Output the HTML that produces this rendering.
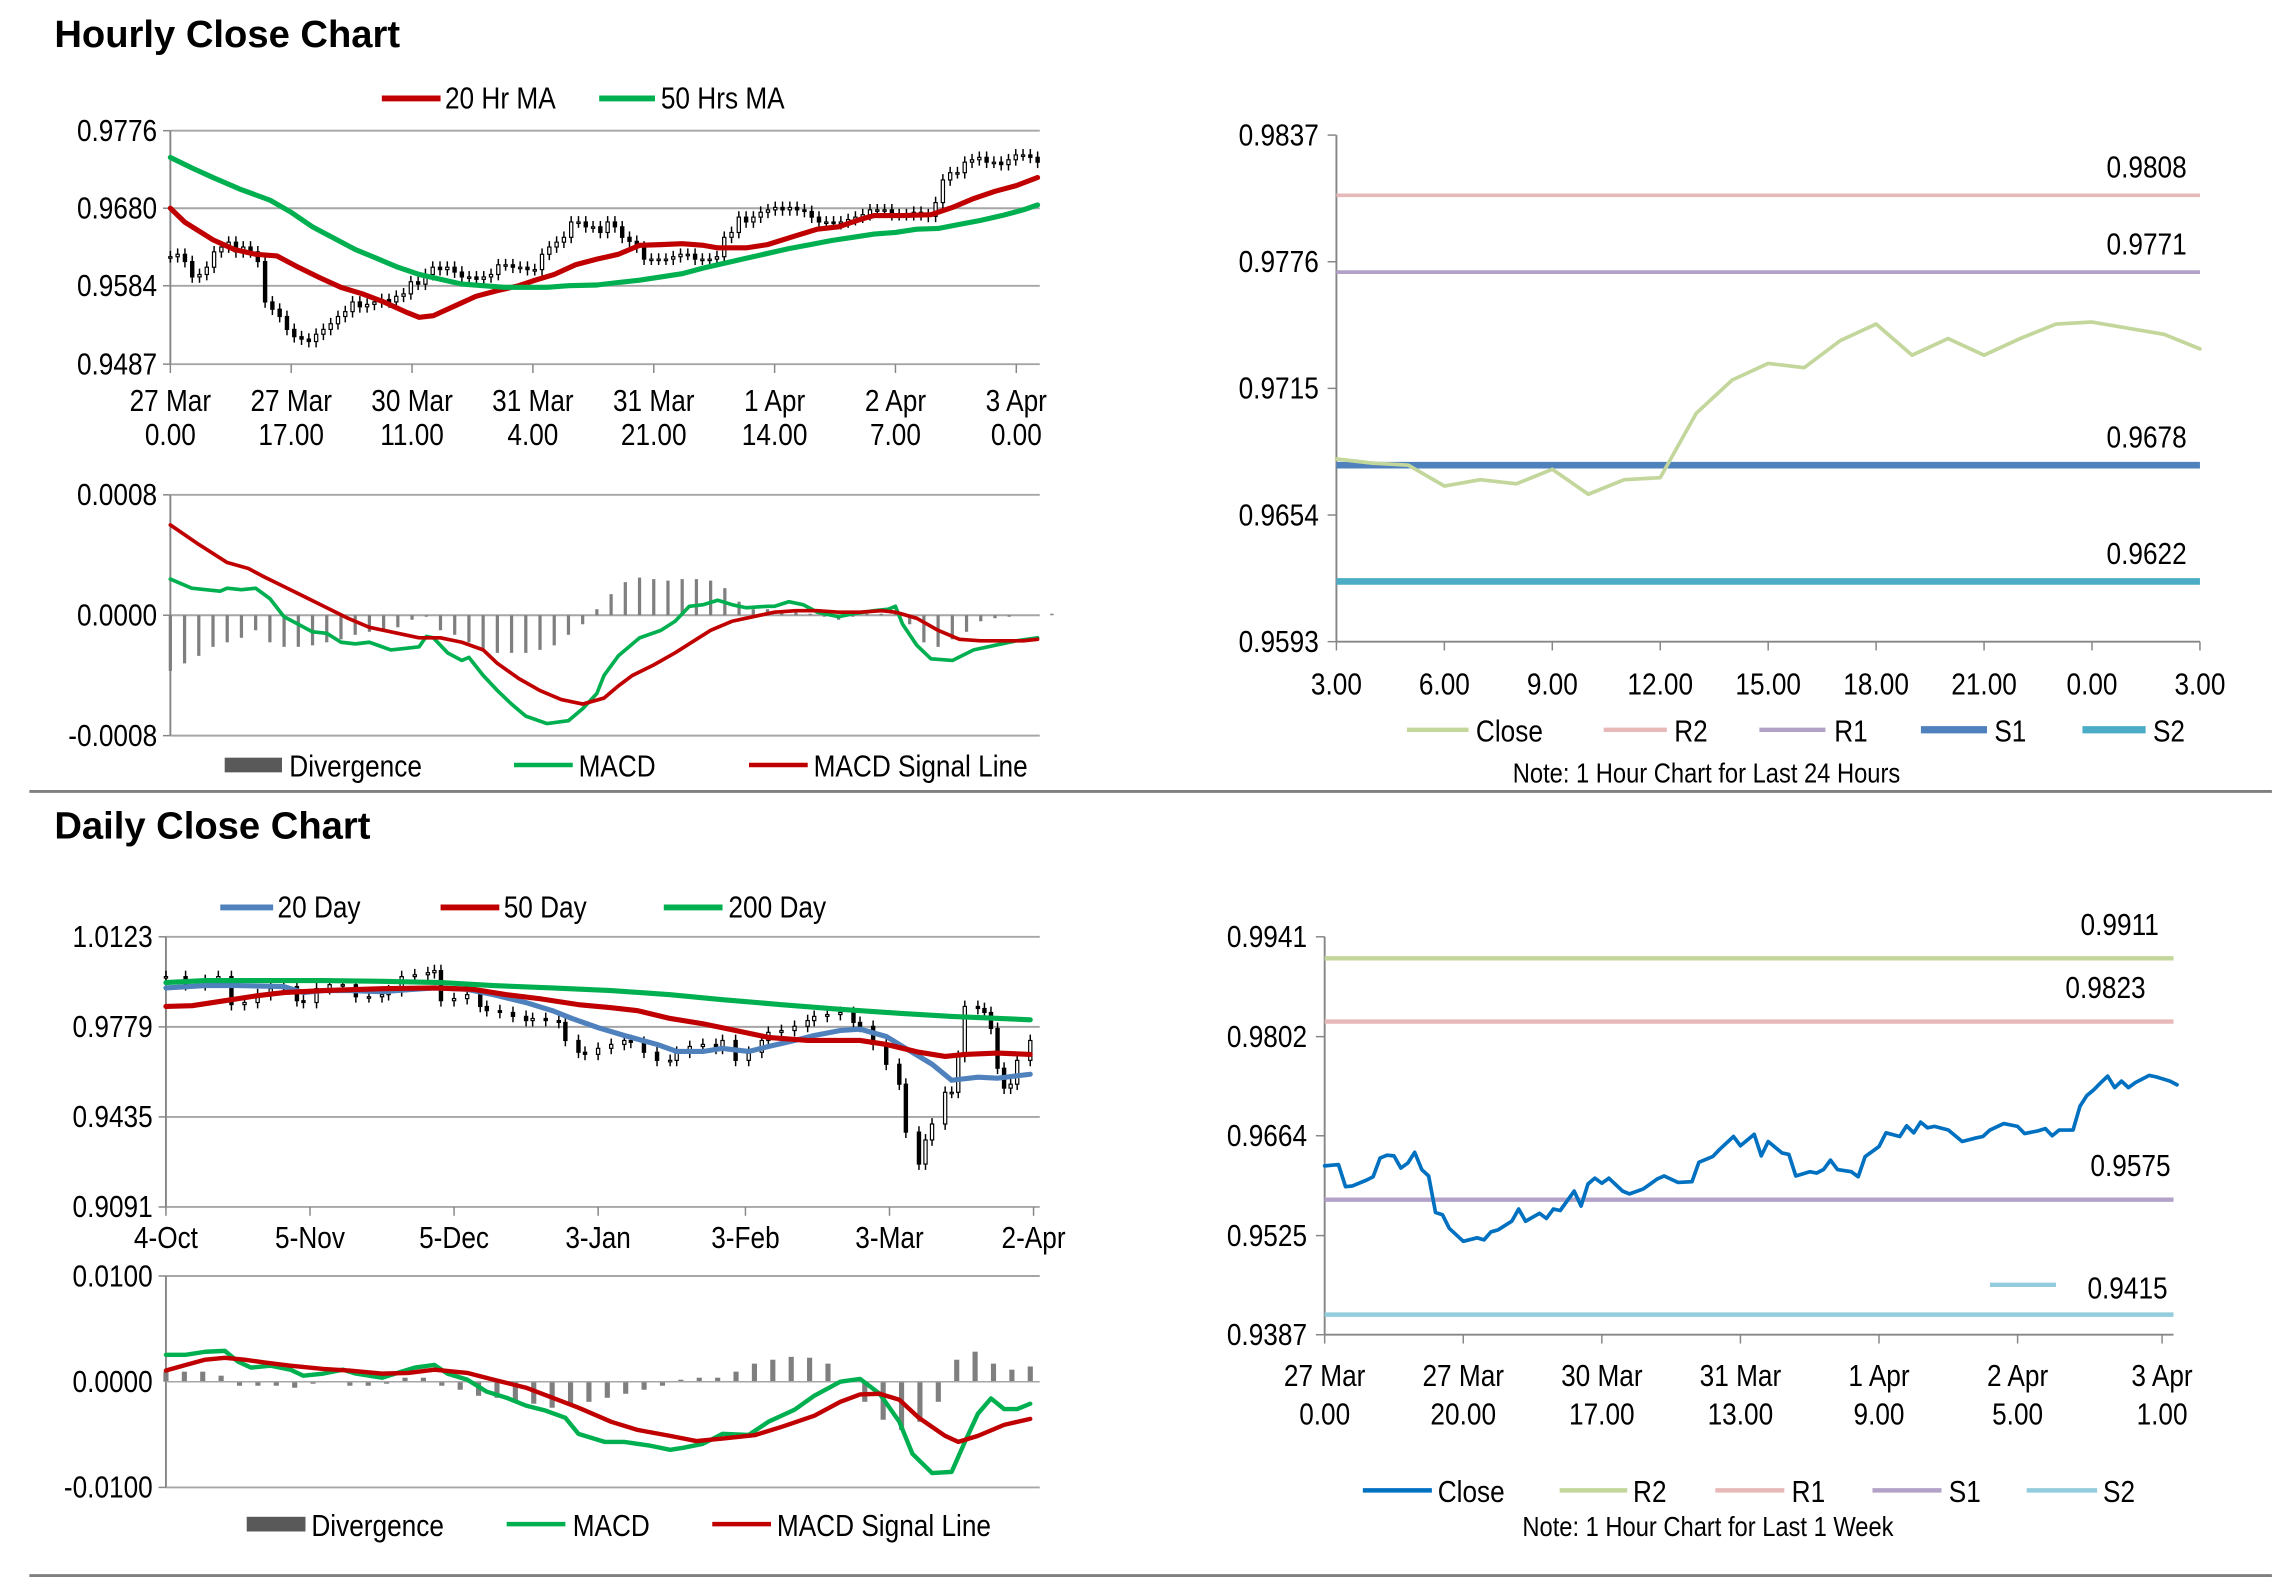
<!DOCTYPE html>
<html><head><meta charset="utf-8"><title>Hourly and Daily Close Charts</title>
<style>
html,body{margin:0;padding:0;background:#fff;}
svg{display:block;}
text{font-family:"Liberation Sans Narrow","Liberation Sans",sans-serif;fill:#000;}
.t{font-size:21px;}
.ti{font-family:"Liberation Sans",sans-serif;font-weight:bold;font-size:26px;}
</style></head>
<body>
<svg id="root" xmlns="http://www.w3.org/2000/svg" width="2291" height="1577" viewBox="0 0 1560 1074" preserveAspectRatio="none">
<rect x="0" y="0" width="1560" height="1074" fill="#fff"/>
<text class="ti" x="37" y="32">Hourly Close Chart</text>
<text class="ti" x="37" y="571">Daily Close Chart</text>
<line x1="20" y1="539" x2="1547" y2="539" stroke="#808080" stroke-width="2"/>
<line x1="20" y1="1073" x2="1547" y2="1073" stroke="#808080" stroke-width="2"/>

<g>
<line x1="260" y1="67" x2="300" y2="67" stroke="#c00000" stroke-width="4"/><text class="t" x="303" y="74">20 Hr MA</text>
<line x1="408" y1="67" x2="446" y2="67" stroke="#00b050" stroke-width="4"/><text class="t" x="450" y="74">50 Hrs MA</text>
</g>
<g>
<rect x="153" y="516" width="39" height="10" fill="#595959"/><text class="t" x="197" y="529">Divergence</text>
<line x1="350" y1="521" x2="390" y2="521" stroke="#00b050" stroke-width="3"/><text class="t" x="394" y="529">MACD</text>
<line x1="510" y1="521" x2="550" y2="521" stroke="#c00000" stroke-width="3"/><text class="t" x="554" y="529">MACD Signal Line</text>
</g>
<g>
<line x1="958" y1="497" x2="1000" y2="497" stroke="#c3d69b" stroke-width="3"/><text class="t" x="1005" y="505">Close</text>
<line x1="1092" y1="497" x2="1135" y2="497" stroke="#e6b9b8" stroke-width="3"/><text class="t" x="1140" y="505">R2</text>
<line x1="1198" y1="497" x2="1243" y2="497" stroke="#b3a2c7" stroke-width="3"/><text class="t" x="1249" y="505">R1</text>
<line x1="1308" y1="497" x2="1353" y2="497" stroke="#4f81bd" stroke-width="5"/><text class="t" x="1358" y="505">S1</text>
<line x1="1418" y1="497" x2="1461" y2="497" stroke="#4bacc6" stroke-width="5"/><text class="t" x="1466" y="505">S2</text>
<text class="t" x="1162" y="533" text-anchor="middle" style="font-size:19px">Note: 1 Hour Chart for Last 24 Hours</text>
</g>
<g>
<line x1="150" y1="618" x2="186" y2="618" stroke="#4f81bd" stroke-width="4"/><text class="t" x="189" y="625">20 Day</text>
<line x1="300" y1="618" x2="340" y2="618" stroke="#c00000" stroke-width="4"/><text class="t" x="343" y="625">50 Day</text>
<line x1="452" y1="618" x2="492" y2="618" stroke="#00b050" stroke-width="4"/><text class="t" x="496" y="625">200 Day</text>
</g>
<g>
<rect x="168" y="1033" width="40" height="10" fill="#595959"/><text class="t" x="212" y="1046">Divergence</text>
<line x1="345" y1="1038" x2="385" y2="1038" stroke="#00b050" stroke-width="3"/><text class="t" x="390" y="1046">MACD</text>
<line x1="485" y1="1038" x2="525" y2="1038" stroke="#c00000" stroke-width="3"/><text class="t" x="529" y="1046">MACD Signal Line</text>
</g>
<g>
<line x1="928" y1="1015" x2="975" y2="1015" stroke="#0070c0" stroke-width="3"/><text class="t" x="979" y="1023">Close</text>
<line x1="1062" y1="1015" x2="1108" y2="1015" stroke="#c3d69b" stroke-width="3"/><text class="t" x="1112" y="1023">R2</text>
<line x1="1168" y1="1015" x2="1215" y2="1015" stroke="#e6b9b8" stroke-width="3"/><text class="t" x="1220" y="1023">R1</text>
<line x1="1275" y1="1015" x2="1322" y2="1015" stroke="#b3a2c7" stroke-width="3"/><text class="t" x="1327" y="1023">S1</text>
<line x1="1380" y1="1015" x2="1428" y2="1015" stroke="#93cddd" stroke-width="3"/><text class="t" x="1432" y="1023">S2</text>
<text class="t" x="1163" y="1046" text-anchor="middle" style="font-size:19px">Note: 1 Hour Chart for Last 1 Week</text>
</g>
<g id="marks"></g>
</svg>
<script>
const hourlyClose=[0.9620,0.9623,0.9614,0.9595,0.9598,0.9607,0.9626,0.9632,0.9638,0.9626,0.9632,0.9626,0.9614,0.9564,0.9555,0.9546,0.9530,0.9521,0.9518,0.9515,0.9524,0.9530,0.9537,0.9546,0.9552,0.9564,0.9558,0.9561,0.9564,0.9567,0.9564,0.9571,0.9574,0.9589,0.9586,0.9598,0.9607,0.9604,0.9607,0.9601,0.9595,0.9595,0.9592,0.9595,0.9598,0.9610,0.9610,0.9607,0.9607,0.9604,0.9604,0.9623,0.9632,0.9638,0.9644,0.9663,0.9663,0.9657,0.9657,0.9650,0.9663,0.9657,0.9644,0.9639,0.9632,0.9617,0.9617,0.9617,0.9617,0.9620,0.9623,0.9623,0.9617,0.9617,0.9617,0.9620,0.9644,0.9650,0.9669,0.9663,0.9669,0.9675,0.9678,0.9681,0.9678,0.9681,0.9678,0.9676,0.9669,0.9663,0.9663,0.9661,0.9663,0.9666,0.9669,0.9672,0.9678,0.9678,0.9678,0.9672,0.9672,0.9672,0.9675,0.9672,0.9670,0.9687,0.9715,0.9724,0.9724,0.9737,0.9740,0.9743,0.9737,0.9737,0.9734,0.9740,0.9746,0.9746,0.9743,0.9737];
const ma20Hours=[0,2,6,9,12,15,18,21,24,27,30,33,35,37,40,43,46,49,51,54,57,60,63,66,69,72,75,77,81,84,88,91,94,97,99,103,107,110,113,116,119,122];
const ma20Values=[0.9680,0.9663,0.9641,0.9629,0.9623,0.9621,0.9607,0.9594,0.9582,0.9574,0.9564,0.9552,0.9545,0.9547,0.9559,0.9571,0.9578,0.9584,0.9590,0.9598,0.9610,0.9617,0.9623,0.9634,0.9635,0.9636,0.9634,0.9631,0.9631,0.9635,0.9646,0.9654,0.9657,0.9666,0.9671,0.9671,0.9672,0.9681,0.9692,0.9701,0.9708,0.9718];
const ma50Hours=[0,3,6,10,14,17,20,23,26,29,32,35,38,41,44,47,50,53,56,60,63,66,69,72,75,78,81,84,87,90,93,96,99,102,105,108,111,114,117,120,122];
const ma50Values=[0.9743,0.9730,0.9718,0.9703,0.9690,0.9675,0.9657,0.9643,0.9629,0.9618,0.9607,0.9598,0.9592,0.9586,0.9584,0.9582,0.9582,0.9582,0.9584,0.9585,0.9588,0.9591,0.9595,0.9599,0.9606,0.9612,0.9618,0.9624,0.9630,0.9635,0.9640,0.9644,0.9648,0.9650,0.9654,0.9655,0.9660,0.9665,0.9671,0.9678,0.9684];
const hourlyYTicks=[0.9487,0.9584,0.9680,0.9776];
const hourlyXLabels=[["27 Mar","0.00"],["27 Mar","17.00"],["30 Mar","11.00"],["31 Mar","4.00"],["31 Mar","21.00"],["1 Apr","14.00"],["2 Apr","7.00"],["3 Apr","0.00"]];
const hMacdHours=[0,3,5,7,8,10,12,14,16,18,20,22,24,26,28,31,33,35,36,37,39,41,42,44,46,48,50,53,56,58,60,61,63,66,69,71,73,75,77,79,81,84,85,87,89,91,94,96,99,101,102,103,105,107,110,113,116,119,122];
const hMacdValues=[0.00024,0.00018,0.00017,0.00016,0.00018,0.00017,0.00018,0.00011,-0.00001,-0.00006,-0.00011,-0.00012,-0.00018,-0.00019,-0.00018,-0.00023,-0.00022,-0.00021,-0.00014,-0.00015,-0.00025,-0.00030,-0.00028,-0.00040,-0.00050,-0.00059,-0.00067,-0.00072,-0.00070,-0.00062,-0.00052,-0.00040,-0.00027,-0.00015,-0.00010,-0.00004,0.00006,0.00007,0.00010,0.00007,0.00005,0.00006,0.00006,0.00009,0.00007,0.00002,-0.00001,0.00001,0.00003,0.00004,0.00006,-0.00006,-0.00020,-0.00029,-0.00030,-0.00023,-0.00020,-0.00017,-0.00015];
const hSignalHours=[0,4,8,11,13,16,19,22,25,28,32,35,38,41,44,46,49,52,55,58,61,63,65,68,71,74,76,79,82,85,88,91,94,97,100,102,105,108,111,114,117,120,122];
const hSignalValues=[0.00060,0.00047,0.00035,0.00031,0.00026,0.00019,0.00012,0.00005,-0.00002,-0.00008,-0.00012,-0.00015,-0.00015,-0.00018,-0.00023,-0.00032,-0.00042,-0.00050,-0.00056,-0.00059,-0.00055,-0.00047,-0.00040,-0.00033,-0.00025,-0.00016,-0.00010,-0.00004,-0.00001,0.00002,0.00003,0.00003,0.00002,0.00002,0.00003,0.00002,-0.00002,-0.00010,-0.00016,-0.00017,-0.00017,-0.00017,-0.00016];
const hDivergence=[-0.00037,-0.00032,-0.00027,-0.00021,-0.00018,-0.00015,-0.00010,-0.00018,-0.00021,-0.00021,-0.00020,-0.00018,-0.00016,-0.00013,-0.00011,-0.00010,-0.00008,-0.00003,-0.00001,-0.00010,-0.00013,-0.00018,-0.00022,-0.00025,-0.00025,-0.00025,-0.00023,-0.00020,-0.00013,-0.00006,0.00004,0.00014,0.00022,0.00025,0.00024,0.00023,0.00024,0.00024,0.00023,0.00018,0.00009,0.00004,0.00004,0.00002,0.00002,0.00001,-0.00001,-0.00003,-0.00001,0.00001,0.00001,0.00001,-0.00006,-0.00018,-0.00021,-0.00016,-0.00011,-0.00004,-0.00002,-0.00001,0,0,0.00001];
const hMacdTicks=[-0.0008,0.0000,0.0008];
const pivot24Close=[0.9681,0.9679,0.9678,0.9668,0.9671,0.9669,0.9676,0.9664,0.9671,0.9672,0.9703,0.9719,0.9727,0.9725,0.9738,0.9746,0.9731,0.9739,0.9731,0.9739,0.9746,0.9747,0.9744,0.9741,0.9734];
const pivot24Levels=[0.9808,0.9771,0.9678,0.9622];
const pivot24Ticks=[0.9593,0.9654,0.9715,0.9776,0.9837];
const pivot24XLabels=["3.00","6.00","9.00","12.00","15.00","18.00","21.00","0.00","3.00"];
const dailyDays=[0,3,6,8,10,12,14,16,18,20,21,23,25,27,29,31,33,34,36,38,40,41,42,44,46,48,49,51,53,55,56,58,60,61,63,64,66,68,70,71,73,75,77,78,80,82,84,85,87,89,91,92,94,96,98,99,101,103,105,106,108,110,112,113,115,116,117,119,120,121,122,124,125,126,127,128,129,130,132];
const dailyClose=[0.9971,0.9940,0.9956,0.9971,0.9864,0.9872,0.9902,0.9925,0.9933,0.9879,0.9872,0.9925,0.9940,0.9940,0.9894,0.9894,0.9902,0.9917,0.9971,0.9978,0.9986,0.9994,0.9879,0.9887,0.9902,0.9857,0.9841,0.9834,0.9819,0.9803,0.9811,0.9803,0.9796,0.9727,0.9682,0.9674,0.9697,0.9712,0.9727,0.9720,0.9682,0.9651,0.9651,0.9682,0.9704,0.9712,0.9697,0.9727,0.9651,0.9682,0.9727,0.9758,0.9765,0.9781,0.9803,0.9819,0.9826,0.9834,0.9796,0.9781,0.9712,0.9636,0.9560,0.9377,0.9255,0.9347,0.9408,0.9529,0.9529,0.9666,0.9857,0.9849,0.9834,0.9773,0.9621,0.9545,0.9560,0.9651,0.9727];
const ma20dDays=[0,6,11,18,21,24,28,33,37,41,46,50,55,59,62,66,70,75,78,82,85,89,92,96,99,103,106,110,113,117,120,124,127,132];
const ma20dValues=[0.9928,0.9937,0.9937,0.9933,0.9910,0.9918,0.9918,0.9913,0.9921,0.9928,0.9922,0.9902,0.9872,0.9841,0.9811,0.9776,0.9746,0.9712,0.9685,0.9685,0.9697,0.9685,0.9704,0.9727,0.9746,0.9765,0.9770,0.9742,0.9697,0.9636,0.9575,0.9587,0.9583,0.9598];
const ma50dDays=[0,4,9,14,18,24,33,41,47,52,57,63,68,72,77,82,87,92,98,106,110,115,119,122,127,132];
const ma50dValues=[0.9857,0.9860,0.9879,0.9898,0.9910,0.9918,0.9925,0.9928,0.9922,0.9902,0.9887,0.9864,0.9852,0.9841,0.9811,0.9791,0.9765,0.9739,0.9727,0.9727,0.9712,0.9682,0.9666,0.9674,0.9679,0.9674];
const ma200dDays=[0,6,15,24,33,42,50,59,68,77,85,94,103,112,120,132];
const ma200dValues=[0.9948,0.9956,0.9956,0.9956,0.9953,0.9948,0.9937,0.9928,0.9918,0.9902,0.9883,0.9864,0.9846,0.9831,0.9819,0.9806];
const dailyYTicks=[0.9091,0.9435,0.9779,1.0123];
const dailyXLabels=["4-Oct","5-Nov","5-Dec","3-Jan","3-Feb","3-Mar","2-Apr"];
const dailyXTickDays=[0,22,44,66,88.5,110.5,132.5];
const dMacdDays=[0,3,6,9,11,13,16,19,21,24,27,29,33,35,38,41,43,46,49,52,55,58,61,63,67,70,74,77,79,82,85,89,92,96,99,103,106,109,112,114,117,120,122,124,126,128,130,132];
const dMacdValues=[0.00254,0.00254,0.00284,0.00292,0.00190,0.00133,0.00152,0.00114,0.00057,0.00076,0.00114,0.00076,0.00038,0.00076,0.00133,0.00159,0.00076,0.00019,-0.00095,-0.00152,-0.00227,-0.00273,-0.00341,-0.00493,-0.00569,-0.00569,-0.00606,-0.00644,-0.00625,-0.00587,-0.00493,-0.00504,-0.00379,-0.00265,-0.00133,0,0.00027,-0.00114,-0.00379,-0.00682,-0.00864,-0.00853,-0.00569,-0.00303,-0.00159,-0.00258,-0.00258,-0.00208];
const dSignalDays=[0,3,6,9,12,15,19,24,28,33,37,41,46,50,55,59,63,68,72,77,81,85,90,94,99,103,106,109,112,115,119,121,124,128,132];
const dSignalValues=[0.00106,0.00159,0.00208,0.00227,0.00208,0.00182,0.00152,0.00121,0.00106,0.00076,0.00083,0.00114,0.00083,0.00019,-0.00057,-0.00152,-0.00246,-0.00379,-0.00455,-0.00512,-0.00561,-0.00538,-0.00504,-0.00428,-0.00322,-0.00190,-0.00121,-0.00114,-0.00171,-0.00341,-0.00512,-0.00569,-0.00512,-0.00409,-0.00352];
const dDivergence=[0.00095,0.00095,0.00095,0.00057,-0.00038,-0.00038,-0.00038,-0.00057,-0.00019,0,-0.00038,-0.00038,-0.00019,0.00038,0.00038,-0.00038,-0.00076,-0.00133,-0.00152,-0.00190,-0.00208,-0.00246,-0.00227,-0.00190,-0.00152,-0.00114,-0.00076,-0.00038,0.00019,0.00038,0.00038,0.00095,0.00171,0.00208,0.00235,0.00227,0.00171,0,-0.00190,-0.00360,-0.00455,-0.00379,-0.00190,0.00208,0.00284,0.00171,0.00114,0.00144];
const dMacdTicks=[-0.0100,0.0000,0.0100];
const weekHours=[0,2,3,4,6,7,8,9,10,11,12,13,14,15,16,17,18,20,22,23,24,25,27,28,29,31,32,33,34,36,37,38,39,40,41,43,44,46,48,49,51,53,54,56,57,59,60,62,63,64,66,67,68,70,71,72,73,74,76,77,78,80,81,83,84,85,86,87,88,90,92,94,95,96,98,100,101,103,104,105,106,108,109,110,111,112,113,114,115,116,117,119,120,122,123];
const weekClose=[0.9622,0.9624,0.9593,0.9594,0.9602,0.9607,0.9633,0.9637,0.9636,0.9619,0.9626,0.9641,0.9617,0.9608,0.9557,0.9554,0.9535,0.9517,0.9522,0.9519,0.9530,0.9533,0.9545,0.9562,0.9545,0.9556,0.9549,0.9562,0.9560,0.9587,0.9566,0.9597,0.9605,0.9598,0.9605,0.9587,0.9583,0.9590,0.9604,0.9608,0.9599,0.9600,0.9627,0.9635,0.9645,0.9663,0.9650,0.9666,0.9636,0.9656,0.9640,0.9638,0.9608,0.9614,0.9612,0.9617,0.9630,0.9617,0.9614,0.9607,0.9635,0.9649,0.9668,0.9663,0.9678,0.9668,0.9683,0.9675,0.9677,0.9672,0.9656,0.9661,0.9663,0.9672,0.9681,0.9677,0.9667,0.9671,0.9674,0.9664,0.9672,0.9672,0.9705,0.9720,0.9728,0.9738,0.9747,0.9731,0.9740,0.9731,0.9738,0.9748,0.9746,0.9740,0.9735];
const weekLevels=[0.9911,0.9823,0.9575,0.9415];
const weekTicks=[0.9387,0.9525,0.9664,0.9802,0.9941];
const weekXLabels=[["27 Mar","0.00"],["27 Mar","20.00"],["30 Mar","17.00"],["31 Mar","13.00"],["1 Apr","9.00"],["2 Apr","5.00"],["3 Apr","1.00"]];

const NS='http://www.w3.org/2000/svg';
const marks=document.getElementById('marks');
function el(tag,attrs,parent){const e=document.createElementNS(NS,tag);for(const k in attrs)e.setAttribute(k,attrs[k]);(parent||marks).appendChild(e);return e;}
function scale(d0,d1,r0,r1){return v=>r0+(v-d0)*(r1-r0)/(d1-d0);}
function txt(x,y,s,anchor,parent,size){const t=el('text',{x:x,y:y,'text-anchor':anchor||'start',class:'t'},parent);if(size)t.style.fontSize=size+'px';t.textContent=s;return t;}
function poly(xs,ys,fx,fy,color,w,parent){let d='';for(let i=0;i<xs.length;i++)d+=(i?'L':'M')+fx(xs[i]).toFixed(1)+' '+fy(ys[i]).toFixed(1);return el('path',{d:d,fill:'none',stroke:color,'stroke-width':w,'stroke-linejoin':'round','stroke-linecap':'round'},parent);}
function grid(x0,x1,fy,ticks,fmt,parent){ticks.forEach(t=>{const y=fy(t);const g=el('line',{x1:x0,y1:y,x2:x1,y2:y,stroke:'#a6a6a6','stroke-width':1.3},parent);const l=txt(x0-9,y+7,fmt(t),'end',parent);el('line',{x1:x0-5,y1:y,x2:x0,y2:y,stroke:'#868686','stroke-width':1},parent);});}
function candles(xs,closes,fx,fy,w,parent){for(let i=0;i<closes.length;i++){const c=closes[i];const o=i?closes[i-1]:c;const x=fx(xs[i]);const yt=fy(Math.max(o,c)),yb=fy(Math.min(o,c));const wk=el('line',{x1:x,y1:yt-4,x2:x,y2:yb+4,stroke:'#000','stroke-width':1},parent);const b=el('rect',{x:x-w/2,y:yt,width:w,height:Math.max(1,yb-yt),fill:c>=o?'#fff':'#000',stroke:'#000','stroke-width':0.8},parent);}}

(function(){
const g=el('g',{});
const fx=scale(0,122.3,116,708),fy=scale(0.9487,0.9776,248,89);
grid(116,708,fy,hourlyYTicks,v=>v.toFixed(4),g);
el('line',{x1:116,y1:89,x2:116,y2:248,stroke:'#868686','stroke-width':1.3},g);
hourlyXLabels.forEach((l,i)=>{const x=fx(i*17);el('line',{x1:x,y1:248,x2:x,y2:254,stroke:'#868686'},g);const a=txt(x,280,l[0],'middle',g);const b=txt(x,303,l[1],'middle',g);});
const hx=hourlyClose.map((_,i)=>i*122/(hourlyClose.length-1));
candles(hx,hourlyClose,fx,fy,2.2,g);
const r=poly(ma20Hours,ma20Values,fx,fy,'#c00000',3.5,g);
const gr=poly(ma50Hours,ma50Values,fx,fy,'#00b050',3.5,g);
})();
(function(){
const g=el('g',{});
const fx=scale(0,122.3,116,708),fy=scale(-0.0008,0.0008,501,337);
grid(116,708,fy,hMacdTicks,v=>v.toFixed(4),g);
el('line',{x1:116,y1:337,x2:116,y2:501,stroke:'#868686','stroke-width':1.3},g);
hDivergence.forEach((v,i)=>{const x=fx(i*2);const b=el('line',{x1:x,y1:fy(0),x2:x,y2:fy(v),stroke:'#7f7f7f','stroke-width':2.2},g);});
const m=poly(hMacdHours,hMacdValues,fx,fy,'#00b050',2.5,g);
const s=poly(hSignalHours,hSignalValues,fx,fy,'#c00000',2.5,g);
})();
(function(){
const g=el('g',{});
const fx=scale(0,24,910,1498),fy=scale(0.9593,0.9837,437,92);
el('line',{x1:910,y1:92,x2:910,y2:437,stroke:'#868686','stroke-width':1.3},g);
el('line',{x1:910,y1:437,x2:1498,y2:437,stroke:'#868686','stroke-width':1.3},g);
pivot24Ticks.forEach(t=>{const y=fy(t);el('line',{x1:904,y1:y,x2:910,y2:y,stroke:'#868686'},g);const l=txt(898,y+7,t.toFixed(4),'end',g);});
pivot24XLabels.forEach((s,i)=>{const x=fx(i*3);el('line',{x1:x,y1:437,x2:x,y2:443,stroke:'#868686'},g);const l=txt(x,473,s,'middle',g);});
const cols=['#e6b9b8','#b3a2c7','#4f81bd','#4bacc6'],ws=[2.5,2.5,4.5,4.5],nm=['r2','r1','s1','s2'];
pivot24Levels.forEach((v,i)=>{const y=fy(v);const ln=el('line',{x1:910,y1:y,x2:1498,y2:y,stroke:cols[i],'stroke-width':ws[i]},g);const l=txt(1489,y-12,v.toFixed(4),'end',g);});
const c=poly(pivot24Close.map((_,i)=>i),pivot24Close,fx,fy,'#c3d69b',2.5,g);
})();
(function(){
const g=el('g',{});
const fx=scale(0,133,113,706),fy=scale(0.9091,1.0123,822,638);
grid(113,708,fy,dailyYTicks,v=>v.toFixed(4),g);
el('line',{x1:113,y1:638,x2:113,y2:822,stroke:'#868686','stroke-width':1.3},g);
dailyXLabels.forEach((s,i)=>{const x=fx(dailyXTickDays[i]);el('line',{x1:x,y1:822,x2:x,y2:828,stroke:'#868686'},g);const l=txt(x,850,s,'middle',g);});
candles(dailyDays,dailyClose,fx,fy,2.2,g);
const b=poly(ma20dDays,ma20dValues,fx,fy,'#4f81bd',3.5,g);
const r=poly(ma50dDays,ma50dValues,fx,fy,'#c00000',3.5,g);
const gr=poly(ma200dDays,ma200dValues,fx,fy,'#00b050',3.5,g);
})();
(function(){
const g=el('g',{});
const fx=scale(0,133,113,706),fy=scale(-0.01,0.01,1013,869);
grid(113,708,fy,[-0.01,0.01],v=>v.toFixed(4),g);
const z=txt(104,fy(0)+7,'0.0000','end',g);
el('line',{x1:113,y1:869,x2:113,y2:1013,stroke:'#868686','stroke-width':1.3},g);
dDivergence.forEach((v,i)=>{const x=fx(i*132/(dDivergence.length-1));const b=el('line',{x1:x,y1:fy(0),x2:x,y2:fy(v),stroke:'#7f7f7f','stroke-width':3.5},g);});
el('line',{x1:113,y1:fy(0),x2:708,y2:fy(0),stroke:'#a6a6a6','stroke-width':1},g);
const m=poly(dMacdDays,dMacdValues,fx,fy,'#00b050',3,g);
const s=poly(dSignalDays,dSignalValues,fx,fy,'#c00000',3,g);
})();
(function(){
const g=el('g',{});
const fx=scale(0,122.5,902,1480),fy=scale(0.9387,0.9941,909,638);
el('line',{x1:902,y1:638,x2:902,y2:909,stroke:'#868686','stroke-width':1.3},g);
el('line',{x1:902,y1:909,x2:1480,y2:909,stroke:'#868686','stroke-width':1.3},g);
weekTicks.forEach(t=>{const y=fy(t);el('line',{x1:896,y1:y,x2:902,y2:y,stroke:'#868686'},g);const l=txt(890,y+7,t.toFixed(4),'end',g);});
weekXLabels.forEach((l,i)=>{const x=fx(i*20)+(i==6?4:0);el('line',{x1:x,y1:909,x2:x,y2:915,stroke:'#868686'},g);const a=txt(x,944,l[0],'middle',g);const b=txt(x,970,l[1],'middle',g);});
const cols=['#c3d69b','#e6b9b8','#b3a2c7','#93cddd'],nm=['r2','r1','s1','s2'],lx=[1470,1461,1478,1476];
weekLevels.forEach((v,i)=>{const y=fy(v);const ln=el('line',{x1:902,y1:y,x2:1480,y2:y,stroke:cols[i],'stroke-width':3},g);const l=txt(lx[i],y-(i==3?11:16),v.toFixed(4),'end',g);});
el('line',{x1:1355,y1:875,x2:1400,y2:875,stroke:'#93cddd','stroke-width':3},g);
const c=poly(weekHours,weekClose,fx,fy,'#0070c0',2.5,g);
})();
// condense text to mimic a narrow typeface
document.querySelectorAll('text').forEach(t=>{
  const f=t.classList.contains('ti')?1.0:0.85;
  const w=t.getComputedTextLength();
  if(w>0&&f!==1){t.setAttribute('textLength',(w*f).toFixed(1));t.setAttribute('lengthAdjust','spacingAndGlyphs');}
});
</script>
</body></html>
